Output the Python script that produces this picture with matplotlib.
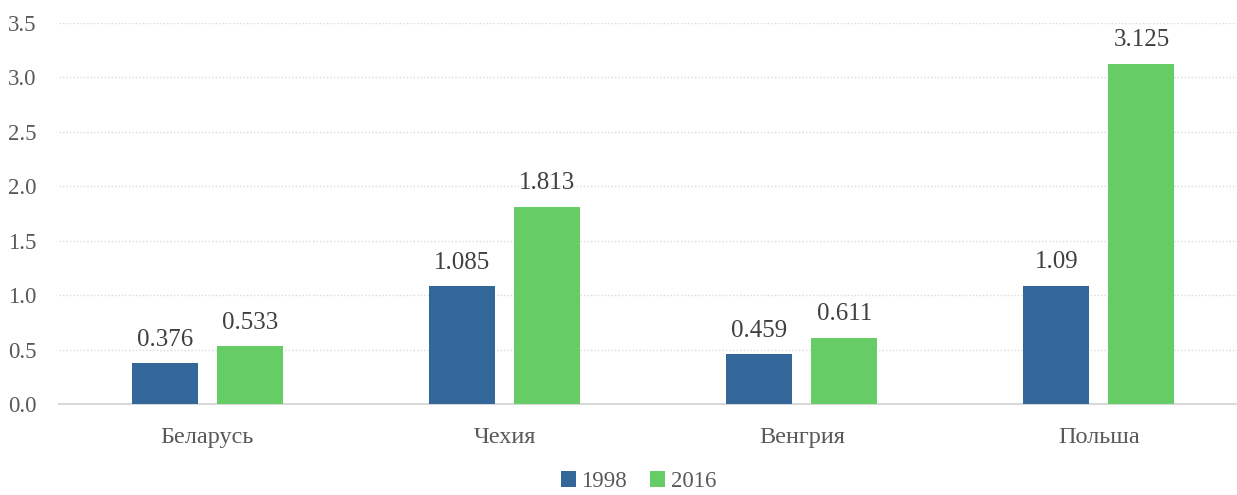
import numpy as np
import matplotlib
matplotlib.use("Agg")
import matplotlib.pyplot as plt

countries = ["Беларусь", "Чехия", "Венгрия", "Польша"]
years = ["1998", "2016"]
v1998 = [0.376, 1.085, 0.459, 1.09]
v2016 = [0.533, 1.813, 0.611, 3.125]
labels1998 = ["0.376", "1.085", "0.459", "1.09"]
labels2016 = ["0.533", "1.813", "0.611", "3.125"]
yticks = [0.0, 0.5, 1.0, 1.5, 2.0, 2.5, 3.0, 3.5]

plt.rcParams["font.family"] = ["Liberation Serif", "DejaVu Serif"]
TXT = "#595959"
LBL = "#404040"
BLUE = "#336699"
GREEN = "#66cc66"

fig = plt.figure(figsize=(12.37, 4.95), dpi=100)
# axes runs a bit past the right edge, like the source (categories spaced wider)
ax = fig.add_axes([0.0475, 0.183, 0.961, 0.771])

x = np.arange(len(countries))
w = 0.222
off = 0.143
b1 = ax.bar(x - off, v1998, w, color=BLUE, label=years[0], zorder=3)
b2 = ax.bar(x + off, v2016, w, color=GREEN, label=years[1], zorder=3)

for bars, labs in ((b1, labels1998), (b2, labels2016)):
    for r, t in zip(bars, labs):
        ax.annotate(t, (r.get_x() + r.get_width() / 2, r.get_height()),
                    xytext=(0, 9), textcoords="offset points",
                    ha="center", va="bottom", fontsize=18, color=LBL)

ax.set_xlim(-0.5, len(countries) - 0.5)
ax.set_ylim(0, 3.5)
ax.set_yticks(yticks)
ax.set_yticklabels([f"{v:.1f}" for v in yticks])
ax.set_xticks(x)
ax.set_xticklabels(countries, fontsize=17.5)
ax.tick_params(axis="both", length=0, labelcolor=TXT)
ax.tick_params(axis="y", labelsize=16.5, pad=16)
ax.tick_params(axis="x", pad=16)

ax.grid(axis="y", color="#d9d9d9", linestyle=(0, (1, 1.5)), lw=1.0, zorder=0)
for s in ["top", "right", "left"]:
    ax.spines[s].set_visible(False)
ax.spines["bottom"].set_color("#d9d9d9")
ax.spines["bottom"].set_linewidth(1.5)

fig.legend(loc="lower center", bbox_to_anchor=(0.516, -0.036), ncol=2, frameon=False,
           fontsize=16.5, labelcolor=TXT, handlelength=0.65, handleheight=0.65,
           handletextpad=0.25, columnspacing=1.0)

fig.savefig("out.png", dpi=100)
